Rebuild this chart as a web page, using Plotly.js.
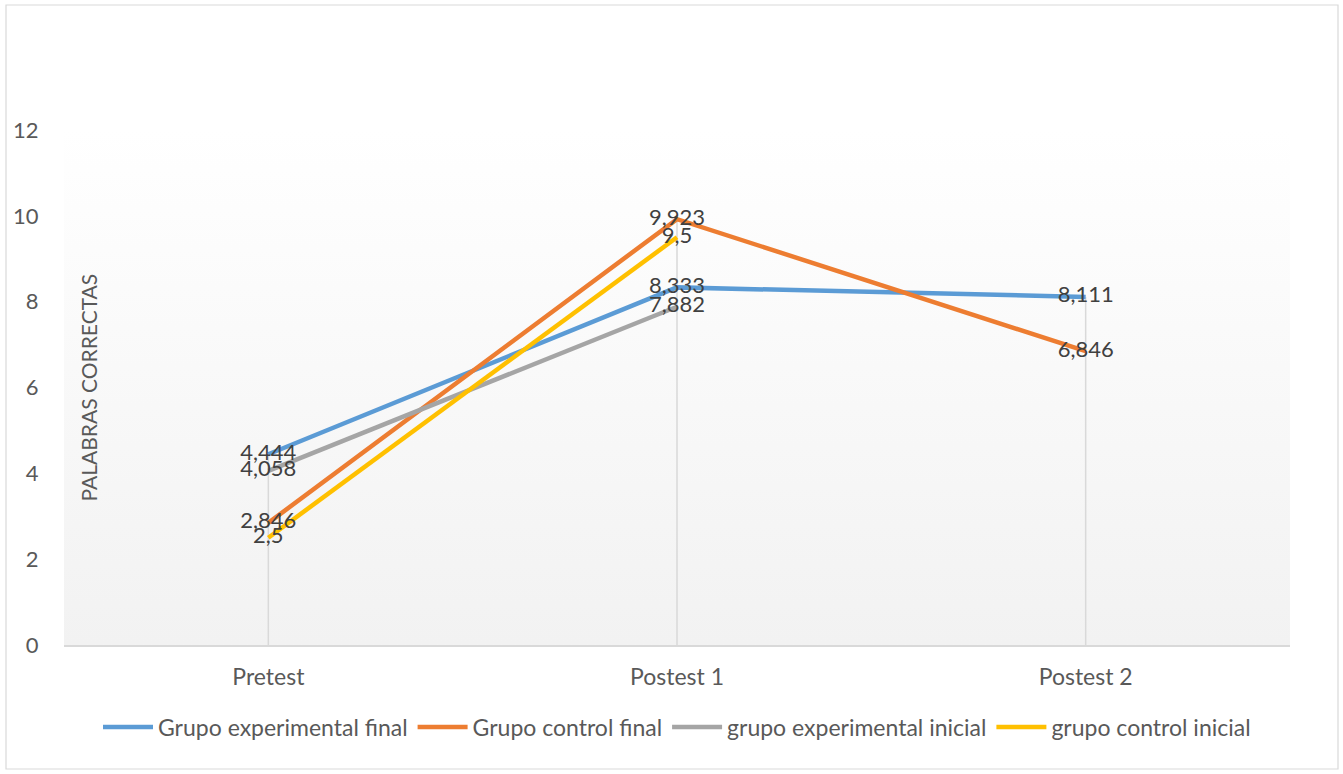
<!DOCTYPE html>
<html>
<head>
<meta charset="utf-8">
<script src="https://cdn.plot.ly/plotly-3.0.1.min.js"></script>
<style>html,body{margin:0;padding:0;background:#fff;}#chart{width:1343px;height:774px;}</style>
</head>
<body>
<div id="chart"></div>
<script>
const categories = ["Pretest", "Postest 1", "Postest 2"];
const seriesNames = ["Grupo experimental final", "Grupo control final", "grupo experimental inicial", "grupo control inicial"];
const expFinal = [4.444, 8.333, 8.111];
const ctrlFinal = [2.846, 9.923, 6.846];
const expInicial = [4.058, 7.882, null];
const ctrlInicial = [2.5, 9.5, null];
const yTicks = [0, 2, 4, 6, 8, 10, 12];
const yTitle = "PALABRAS CORRECTAS";

const colors = ["#5B9BD5", "#ED7D31", "#A5A5A5", "#FFC000"];
const allSeries = [expFinal, ctrlFinal, expInicial, ctrlInicial];

const W = 1343, H = 774, ML = 64, MR = 53, MT = 130, MB = 129;
const PW = W - ML - MR, PH = H - MT - MB;
const px = v => (v - ML) / PW;
const py = v => (H - MB - v) / PH;

const fontFam = "Lato, 'Open Sans', sans-serif";
const fmt = v => v === null ? "" : String(v).replace(".", ",");

// drop lines from highest value to axis at each category
const dropX = [], dropY = [];
categories.forEach((c, i) => {
  const vals = allSeries.map(s => s[i]).filter(v => v !== null);
  const m = Math.max(...vals);
  dropX.push(c, c, null);
  dropY.push(m, 0, null);
});

const traces = [{
  x: dropX, y: dropY, mode: "lines", type: "scatter",
  line: {color: "#d9d9d9", width: 1.5}, showlegend: false, hoverinfo: "skip"
}];

allSeries.forEach((s, k) => {
  traces.push({
    x: categories, y: s, type: "scatter", mode: "lines", name: seriesNames[k],
    line: {color: colors[k], width: 4.5}, connectgaps: false
  });
});
allSeries.forEach((s, k) => {
  traces.push({
    x: categories, y: s, type: "scatter", mode: "text",
    text: s.map(fmt), textposition: "middle center",
    textfont: {family: fontFam, size: 22, color: "#404040"},
    showlegend: false, hoverinfo: "skip"
  });
});

const gradSvg = '<svg xmlns="http://www.w3.org/2000/svg" width="100" height="100" preserveAspectRatio="none"><defs><linearGradient id="g" x1="0" y1="0" x2="0" y2="1"><stop offset="0" stop-color="#ffffff"/><stop offset="1" stop-color="#f2f2f2"/></linearGradient></defs><rect width="100" height="100" fill="url(#g)"/></svg>';

const layout = {
  width: W, height: H,
  margin: {l: ML, r: MR, t: MT, b: MB, pad: 0},
  paper_bgcolor: "#ffffff",
  plot_bgcolor: "rgba(0,0,0,0)",
  font: {family: fontFam, size: 22, color: "#595959"},
  xaxis: {
    type: "category", range: [-0.5, 2.5], showgrid: false, zeroline: false,
    showline: true, linecolor: "#d9d9d9", linewidth: 1.5,
    ticks: "outside", ticklen: 11, tickcolor: "rgba(0,0,0,0)",
    tickfont: {family: fontFam, size: 23, color: "#595959"}, fixedrange: true
  },
  yaxis: {
    range: [0, 12], tickvals: yTicks, showgrid: false, zeroline: false, showline: false,
    ticks: "outside", ticklen: 20, tickcolor: "rgba(0,0,0,0)",
    tickfont: {family: fontFam, size: 22, color: "#595959"}, fixedrange: true
  },
  showlegend: true,
  legend: {
    orientation: "h", x: 0.5, xanchor: "center", y: py(727), yanchor: "middle",
    font: {family: fontFam, size: 23, color: "#595959"},
    bgcolor: "rgba(0,0,0,0)", traceorder: "normal", itemwidth: 50
  },
  images: [{
    source: "data:image/svg+xml;charset=utf-8," + encodeURIComponent(gradSvg),
    xref: "paper", yref: "paper", x: 0, y: 1, sizex: 1, sizey: 1,
    sizing: "stretch", layer: "below", xanchor: "left", yanchor: "top"
  }],
  annotations: [{
    text: yTitle, xref: "paper", yref: "paper", x: px(88), y: 0.5,
    xanchor: "center", yanchor: "middle", textangle: -90, showarrow: false,
    font: {family: fontFam, size: 21, color: "#595959"}
  }],
  shapes: [{
    type: "rect", xref: "paper", yref: "paper",
    x0: px(6), x1: px(1338), y0: py(769), y1: py(5),
    line: {color: "#d9d9d9", width: 1.2}, fillcolor: "rgba(0,0,0,0)", layer: "below"
  }]
};

Plotly.newPlot("chart", traces, layout, {displayModeBar: false, staticPlot: true});
</script>
</body>
</html>
